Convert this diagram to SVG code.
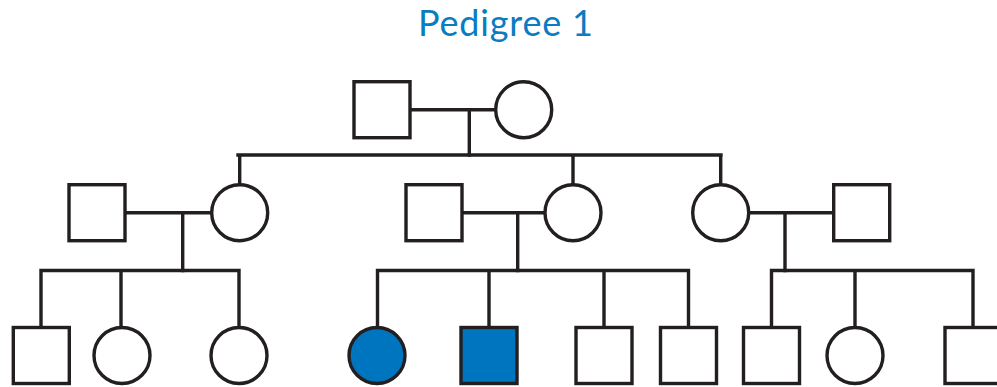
<svg xmlns="http://www.w3.org/2000/svg" width="997" height="387" viewBox="0 0 997 387">
  <style>
    .title { font-family: Lato, "Open Sans", "Liberation Sans", sans-serif; font-size: 36px; fill: #0a7cc2; }
    .sym { fill: #ffffff; stroke: #231f20; stroke-width: 3.4; }
    .affected { fill: #0075bf; }
    .line { fill: none; stroke: #231f20; stroke-width: 3.4; stroke-linecap: square; }
  </style>
  <rect width="997" height="387" fill="#ffffff"/>
  <text class="title" x="418" y="36" textLength="175" lengthAdjust="spacing">Pedigree 1</text>

  <!-- relationship and descent lines -->
  <g id="connectors">
    <!-- generation I -->
    <path class="line" d="M410 109.7 H496 M469.3 109.7 V155"/>
    <path class="line" d="M238 155 H721 M239.7 155 V185 M573 155 V185 M720.7 155 V185"/>
    <!-- generation II couples -->
    <path class="line" d="M125 212.7 H212 M182.7 212.7 V270.5"/>
    <path class="line" d="M41 270.5 H239 M41 270.5 V327.5 M121 270.5 V327.5 M239 270.5 V327.5"/>
    <path class="line" d="M462 212.7 H545 M517.7 212.7 V270.5"/>
    <path class="line" d="M377.5 270.5 H688.5 M377.5 270.5 V327.5 M489 270.5 V327.5 M604 270.5 V327.5 M688.5 270.5 V327.5"/>
    <path class="line" d="M748.7 212.7 H834 M785 212.7 V270.5"/>
    <path class="line" d="M771.5 270.5 H973 M771.5 270.5 V327.5 M855 270.5 V327.5 M973 270.5 V327.5"/>
  </g>

  <!-- generation I -->
  <g id="I-1"><rect class="sym" x="354" y="81.7" width="56" height="56"/></g>
  <g id="I-2"><circle class="sym" cx="523.7" cy="109.7" r="28"/></g>

  <!-- generation II -->
  <g id="II-1"><rect class="sym" x="69" y="184.7" width="56" height="56"/></g>
  <g id="II-2"><circle class="sym" cx="239.7" cy="212.7" r="28"/></g>
  <g id="II-3"><rect class="sym" x="406" y="184.7" width="56" height="56"/></g>
  <g id="II-4"><circle class="sym" cx="573" cy="212.7" r="28"/></g>
  <g id="II-5"><circle class="sym" cx="720.7" cy="212.7" r="28"/></g>
  <g id="II-6"><rect class="sym" x="833.7" y="184.7" width="56" height="56"/></g>

  <!-- generation III -->
  <g id="III-1"><rect class="sym" x="13.3" y="327.5" width="56" height="56"/></g>
  <g id="III-2"><circle class="sym" cx="122" cy="355.5" r="28"/></g>
  <g id="III-3"><circle class="sym" cx="239" cy="355.5" r="28"/></g>
  <g id="III-4"><circle class="sym affected" cx="377" cy="355.5" r="28"/></g>
  <g id="III-5"><rect class="sym affected" x="461" y="327.5" width="56" height="56"/></g>
  <g id="III-6"><rect class="sym" x="576" y="327.5" width="56" height="56"/></g>
  <g id="III-7"><rect class="sym" x="660.5" y="327.5" width="56" height="56"/></g>
  <g id="III-8"><rect class="sym" x="743.5" y="327.5" width="56" height="56"/></g>
  <g id="III-9"><circle class="sym" cx="855" cy="355.5" r="28"/></g>
  <g id="III-10"><rect class="sym" x="945" y="327.5" width="56" height="56"/></g>
</svg>
